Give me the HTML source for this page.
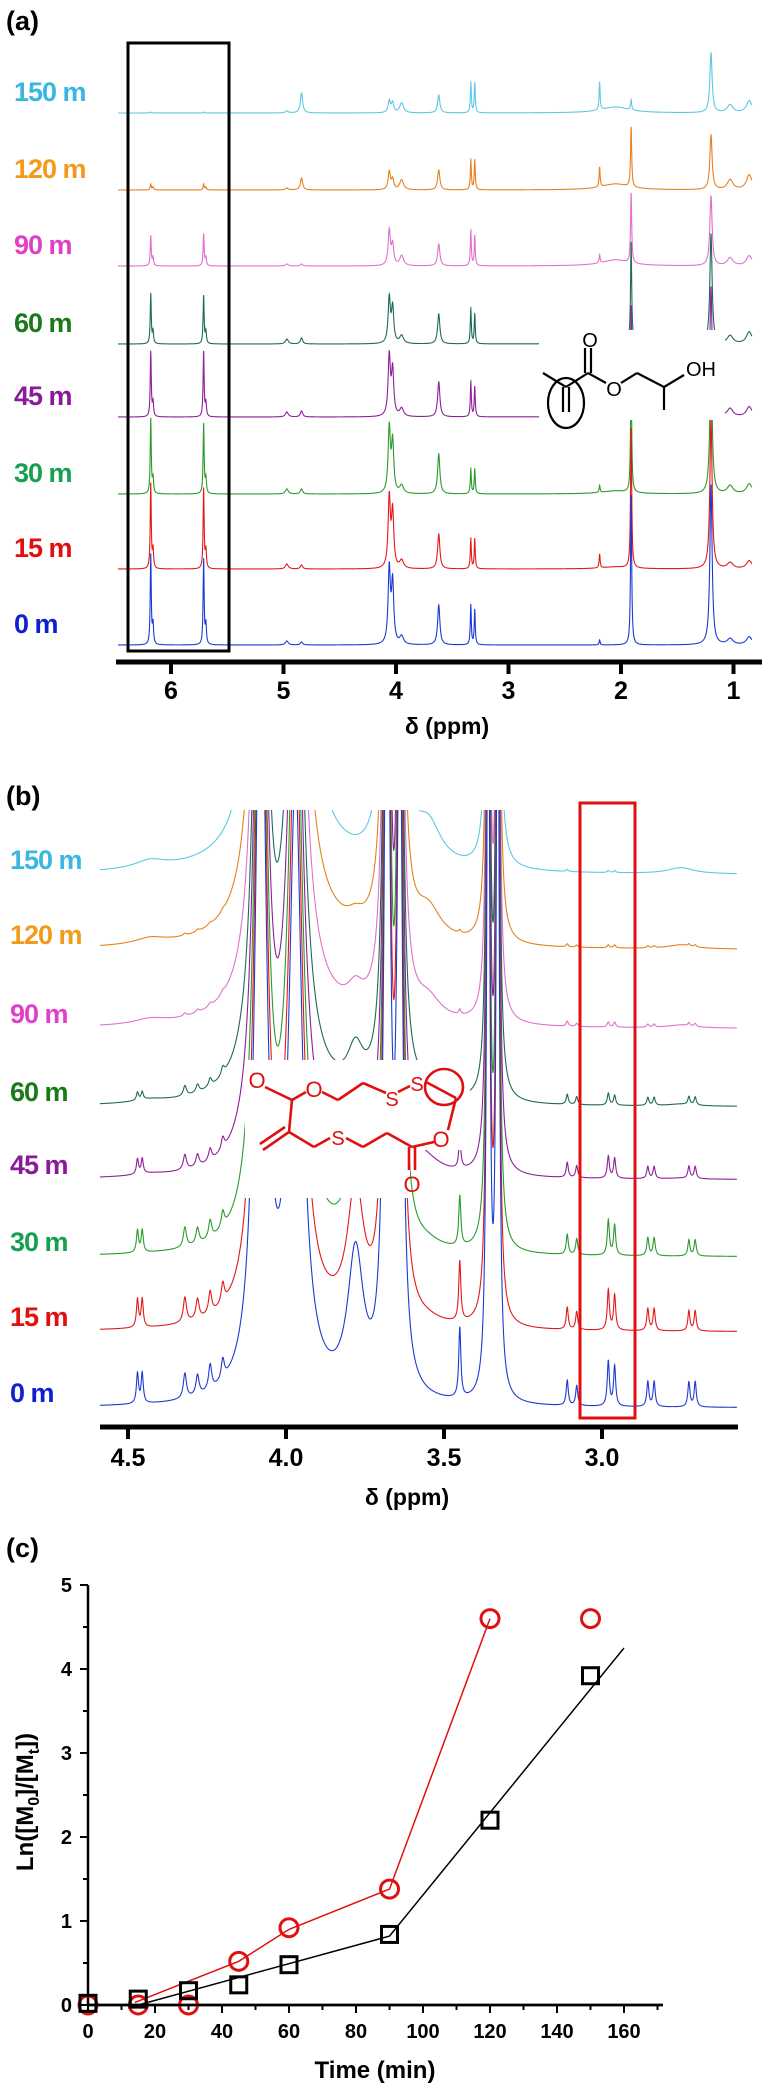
<!DOCTYPE html>
<html><head><meta charset="utf-8">
<style>
html,body{margin:0;padding:0;background:#fff;}
svg{display:block;font-family:"Liberation Sans",sans-serif;}
.lbl{font-weight:bold;font-size:27px;letter-spacing:-1px;}
.tk{font-weight:bold;font-size:25px;}
</style></head>
<body>
<svg id="fig" width="762" height="2084" viewBox="0 0 762 2084" xmlns="http://www.w3.org/2000/svg">
<defs>
<clipPath id="clipA"><rect x="100" y="44" width="662" height="610"/></clipPath>
<clipPath id="clipB"><rect x="95" y="810" width="667" height="615"/></clipPath>
</defs>
<text x="6" y="30" font-size="27" font-weight="bold">(a)</text>
<g id="specA" clip-path="url(#clipA)"></g>
<rect x="128" y="43" width="101" height="608" fill="none" stroke="#000" stroke-width="3"/>
<g id="labelsA"></g>
<g>
<rect x="539" y="330" width="186" height="90" fill="#fff"/>
<g stroke="#000" stroke-width="2.2" fill="none">
<line x1="543" y1="373" x2="566" y2="387"/>
<line x1="566" y1="387" x2="588" y2="373"/>
<line x1="585" y1="373" x2="585" y2="348"/><line x1="591" y1="373" x2="591" y2="348"/>
<line x1="588" y1="373" x2="606" y2="383"/>
<line x1="621" y1="383" x2="637" y2="373"/>
<line x1="637" y1="373" x2="664" y2="387"/>
<line x1="664" y1="387" x2="684" y2="375"/>
<line x1="664" y1="387" x2="664" y2="410"/>
<line x1="563" y1="387" x2="563" y2="412"/><line x1="569" y1="387" x2="569" y2="412"/>
<ellipse cx="566" cy="403" rx="18" ry="25"/>
</g>
<text x="590" y="347" font-size="20" text-anchor="middle">O</text>
<text x="614" y="396" font-size="20" text-anchor="middle">O</text>
<text x="686" y="376" font-size="20">OH</text>
</g>
<g>
<line x1="116" y1="662" x2="762" y2="662" stroke="#000" stroke-width="5"/>
<g id="ticksA"></g>
<text x="447" y="734" font-size="23" font-weight="bold" text-anchor="middle">δ (ppm)</text>
</g>

<text x="6" y="805" font-size="27" font-weight="bold">(b)</text>
<g id="specB" clip-path="url(#clipB)"></g>
<g>
<rect x="245" y="1060" width="225" height="90" fill="#fff"/>
<rect x="245" y="1150" width="165" height="48" fill="#fff"/>
<g stroke="#e01010" stroke-width="2.6" fill="none">
<line x1="265" y1="1087" x2="292" y2="1100"/>
<line x1="292" y1="1100" x2="306" y2="1092"/>
<line x1="322" y1="1092" x2="338" y2="1100"/>
<line x1="338" y1="1100" x2="363" y2="1083"/>
<line x1="363" y1="1083" x2="386" y2="1093"/>
<line x1="398" y1="1092" x2="410" y2="1086"/>
<line x1="426" y1="1082" x2="456" y2="1098"/>
<line x1="456" y1="1098" x2="448" y2="1130"/>
<line x1="434" y1="1142" x2="412" y2="1147"/>
<line x1="409" y1="1147" x2="409" y2="1170"/><line x1="415" y1="1147" x2="415" y2="1170"/>
<line x1="412" y1="1147" x2="387" y2="1133"/>
<line x1="387" y1="1133" x2="363" y2="1147"/>
<line x1="363" y1="1147" x2="346" y2="1138"/>
<line x1="330" y1="1138" x2="314" y2="1147"/>
<line x1="314" y1="1147" x2="289" y2="1132"/>
<line x1="289" y1="1132" x2="292" y2="1100"/>
<line x1="289" y1="1132" x2="263" y2="1150"/><line x1="285" y1="1127" x2="260" y2="1144"/>
<ellipse cx="444" cy="1087" rx="19" ry="18"/>
</g>
<g fill="#e01010" font-size="22">
<text x="257" y="1088" text-anchor="middle">O</text>
<text x="314" y="1097" text-anchor="middle">O</text>
<text x="392" y="1106" text-anchor="middle" font-size="20">S</text>
<text x="417" y="1091" text-anchor="middle" font-size="20">S</text>
<text x="441" y="1147" text-anchor="middle">O</text>
<text x="338" y="1145" text-anchor="middle" font-size="20">S</text>
<text x="412" y="1192" text-anchor="middle">O</text>
</g>
</g>
<rect x="580" y="803" width="55" height="615" fill="none" stroke="#e01010" stroke-width="3"/>
<g id="labelsB"></g>
<g>
<line x1="100" y1="1427" x2="738" y2="1427" stroke="#000" stroke-width="5"/>
<g id="ticksB"></g>
<text x="407" y="1505" font-size="23" font-weight="bold" text-anchor="middle">δ (ppm)</text>
</g>

<text x="6" y="1557" font-size="27" font-weight="bold">(c)</text>
<g id="chartC"></g>
<text x="375" y="2078" font-size="24" font-weight="bold" text-anchor="middle">Time (min)</text>
<text transform="translate(33,1802) rotate(-90)" font-size="24" font-weight="bold" text-anchor="middle">Ln([M<tspan font-size="16" dy="6">0</tspan><tspan dy="-6">]/[M</tspan><tspan font-size="16" dy="6">t</tspan><tspan dy="-6">])</tspan></text>
</svg>
<script>
// ---------- data ----------
const timeLabels = ["150 m","120 m","90 m","60 m","45 m","30 m","15 m","0 m"];
const lineColors = ["#5cc8e6","#e8801e","#e070cc","#1d6a5c","#8e1e9a","#2c9a2c","#e41818","#1c3ad2"];
const labelColors = ["#3ab6e2","#f29a1c","#e040c6","#1a7a1a","#8a1a9a","#17a050","#e01010","#1020d0"];

const peaksA = [6.18,6.16,5.71,5.69,4.97,4.84,4.06,4.03,3.95,3.62,3.335,3.30,2.19,1.91,1.20,1.03,0.86,2.05];
const widthsA = [.005,.006,.005,.006,.015,.012,.012,.012,.02,.012,.004,.004,.003,.006,.012,.03,.03,.15];
const ampA = [
 [1,0,1,0,2,20,12,10,10,18,30,30,28,10,60,8,12,6],
 [6,3,6,3,2,12,18,10,10,20,30,30,20,60,55,10,15,6],
 [30,8,32,8,2,2,35,20,10,22,35,30,8,70,70,8,10,6],
 [50,12,48,12,5,6,45,35,8,30,35,30,0,100,110,8,12,4],
 [65,14,65,13,5,6,60,45,8,35,35,30,0,110,130,8,10,3],
 [75,15,70,15,5,5,65,50,8,40,25,25,7,120,140,8,10,3],
 [85,18,80,18,5,4,70,55,8,35,30,30,14,140,150,6,8,2],
 [90,20,85,20,4,3,75,60,8,40,40,35,5,150,160,6,8,0]
];
const ticksAppm = [6,5,4,3,2,1];

const peaksB = [4.47,4.455,4.32,4.28,4.24,4.20,4.08,3.97,3.78,3.68,3.64,3.45,3.36,3.33,3.11,3.08,2.98,2.96,2.855,2.835,2.725,2.705,4.43,4.00,3.55,2.75];
const widthsB = [.004,.004,.006,.006,.006,.006,.02,.025,.03,.01,.01,.004,.005,.005,.004,.004,.004,.004,.004,.004,.004,.004,.06,.05,.05,.05];
const ampB = [
 [0,0,0,0,0,0,800,600,0,900,700,0,900,900,2,0,2,2,0,0,0,0,8,250,40,6],
 [0,0,2,2,2,2,800,600,10,900,700,3,900,900,3,2,3,3,2,2,2,2,6,180,30,4],
 [0,0,3,3,3,3,800,600,20,900,700,5,900,900,5,3,5,5,3,3,3,3,5,120,20,3],
 [8,8,10,8,8,8,800,600,40,900,700,15,900,900,10,8,12,10,8,8,8,8,3,60,12,2],
 [15,15,15,12,12,12,800,600,60,900,700,30,900,900,15,12,22,20,12,12,12,12,2,30,8,1],
 [22,22,20,16,18,16,800,600,100,900,700,50,900,900,20,16,35,30,18,18,16,16,0,15,5,0],
 [28,28,25,20,22,20,800,600,130,900,700,60,900,900,22,18,40,35,22,22,20,20,0,5,3,0],
 [30,30,25,20,25,20,800,600,140,900,700,70,900,900,25,20,45,40,25,25,25,25,0,0,0,0]
];
const ticksBppm = [4.5,4.0,3.5,3.0];

const timesRed = [0,15,30,45,60,90,120,150];
const valuesRed = [0,0,0,0.52,0.92,1.38,4.6,4.6];
const timesBlack = [0,15,30,45,60,90,120,150];
const valuesBlack = [0.02,0.07,0.17,0.24,0.48,0.84,2.2,3.92];
const fitRedT = [14,45,60,90,120];
const fitRedV = [0.03,0.52,0.9,1.38,4.6];
const fitBlackT = [15,90,160];
const fitBlackV = [0,0.82,4.25];
const xTicks = [0,20,40,60,80,100,120,140,160];
const yTicks = [0,1,2,3,4,5];

// ---------- helpers ----------
const NS = "http://www.w3.org/2000/svg";
function mk(tag, attrs, parent){
  const e = document.createElementNS(NS, tag);
  for (const k in attrs) e.setAttribute(k, attrs[k]);
  parent.appendChild(e); return e;
}
function spectrum(peaks, widths, amps, ppmToX, x0, x1, base){
  const pts = [];
  const xs = [];
  for (let x = x0; x <= x1; x += 0.3) xs.push(x);
  peaks.forEach(p => xs.push(ppmToX(p)));
  xs.sort((a,b)=>a-b);
  const pxPerPpm = Math.abs(ppmToX(0) - ppmToX(1));
  xs.forEach(x => {
    if (x < x0 || x > x1) return;
    let y = 0;
    for (let i = 0; i < peaks.length; i++){
      const w = Math.max(widths[i]*pxPerPpm, 0.6);
      const d = x - ppmToX(peaks[i]);
      y += amps[i] * w*w/(d*d + w*w);
    }
    pts.push(x.toFixed(2) + "," + (base - Math.min(y, 1000)).toFixed(2));
  });
  return pts.join(" ");
}

// ---------- panel a ----------
const xA = p => 171 + (6 - p) * 112.5;
const baseA = [113,190,266,344,417,494,569,645];
const gA = document.getElementById("specA");
ampA.forEach((amps, i) => {
  const pl = mk("polyline", {points: spectrum(peaksA, widthsA, amps, xA, 118, 752, baseA[i]), fill:"none", stroke:lineColors[i], "stroke-width":"1.1"}, gA);
  
  
});
const lA = document.getElementById("labelsA");
timeLabels.forEach((t, i) => {
  const tx = mk("text", {x:14, y:baseA[i]-12, class:"lbl", fill:labelColors[i]}, lA);
  tx.textContent = t;
  
  
});
const tA = document.getElementById("ticksA");
ticksAppm.forEach(p => {
  const ln = mk("line", {x1:xA(p), x2:xA(p), y1:662, y2:674, stroke:"#000", "stroke-width":"4"}, tA);
  
  
  const tx = mk("text", {x:xA(p), y:699, class:"tk", "text-anchor":"middle"}, tA);
  tx.textContent = String(p);
  
  
});

// ---------- panel b ----------
const xB = p => 128 + (4.5 - p) * 316;
const baseB = [875,950,1029,1107,1180,1257,1332,1408];
const gB = document.getElementById("specB");
ampB.forEach((amps, i) => {
  const pl = mk("polyline", {points: spectrum(peaksB, widthsB, amps, xB, 100, 737, baseB[i]), fill:"none", stroke:lineColors[i], "stroke-width":"1.1"}, gB);
  
  
});
const lB = document.getElementById("labelsB");
timeLabels.forEach((t, i) => {
  const tx = mk("text", {x:10, y:baseB[i]-6, class:"lbl", fill:labelColors[i]}, lB);
  tx.textContent = t;
  
  
});
const tB = document.getElementById("ticksB");
ticksBppm.forEach(p => {
  const ln = mk("line", {x1:xB(p), x2:xB(p), y1:1427, y2:1439, stroke:"#000", "stroke-width":"4"}, tB);
  
  
  const tx = mk("text", {x:xB(p), y:1466, class:"tk", "text-anchor":"middle"}, tB);
  tx.textContent = p.toFixed(1);
  
  
});

// ---------- panel c ----------
const cx = t => 88 + t * 3.35;
const cy = v => 2005 - v * 84;
const gC = document.getElementById("chartC");
const axes = mk("path", {d:`M88,1585 L88,2005 L663,2005`, fill:"none", stroke:"#000", "stroke-width":"2.5"}, gC);


for (let t = 0; t <= 170; t += 10){
  const major = t % 20 === 0;
  const ln = mk("line", {x1:cx(t), x2:cx(t), y1:2005, y2:2005 + (major?8:5), stroke:"#000", "stroke-width":"2"}, gC);
  
  
}
xTicks.forEach(t => {
  const tx = mk("text", {x:cx(t), y:2038, "font-size":"20", "font-weight":"bold", "text-anchor":"middle"}, gC);
  tx.textContent = t;
  
  
});
for (let v = 0; v <= 5; v += 0.5){
  const major = Math.abs(v - Math.round(v)) < 1e-6;
  const ln = mk("line", {x1:88 - (major?8:5), x2:88, y1:cy(v), y2:cy(v), stroke:"#000", "stroke-width":"2"}, gC);
  
  
}
yTicks.forEach(v => {
  const tx = mk("text", {x:72, y:cy(v)+7, "font-size":"20", "font-weight":"bold", "text-anchor":"end"}, gC);
  tx.textContent = v;
  
  
});
const fr = mk("polyline", {points: fitRedT.map((t,i)=>cx(t)+","+cy(fitRedV[i])).join(" "), fill:"none", stroke:"#e01010", "stroke-width":"1.5"}, gC);


const fb = mk("polyline", {points: fitBlackT.map((t,i)=>cx(t)+","+cy(fitBlackV[i])).join(" "), fill:"none", stroke:"#000", "stroke-width":"1.5"}, gC);


timesRed.forEach((t,i) => {
  const c = mk("ellipse", {cx:cx(t), cy:cy(valuesRed[i]), rx:9, ry:9, fill:"none", stroke:"#e01010", "stroke-width":"3"}, gC);
  
  
});
timesBlack.forEach((t,i) => {
  const r = mk("rect", {x:cx(t)-8, y:cy(valuesBlack[i])-8, width:16, height:16, fill:"none", stroke:"#000", "stroke-width":"3"}, gC);
  
  
});
mk("line", {x1:88, y1:2005, x2:663, y2:2005, stroke:"#000", "stroke-width":"2.5"}, gC);
</script>
</body></html>
